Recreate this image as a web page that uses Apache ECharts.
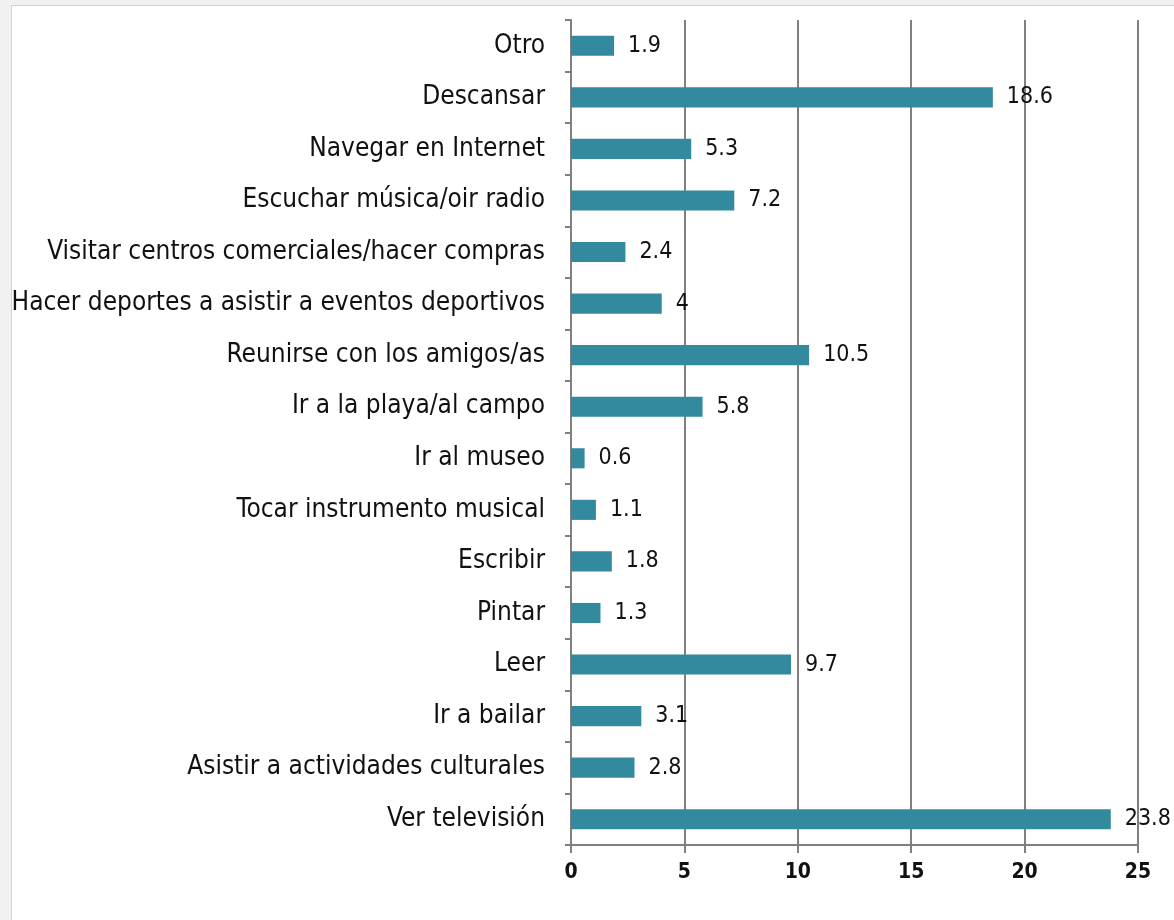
<!DOCTYPE html>
<html>
<head>
<meta charset="utf-8">
<script src="https://cdn.jsdelivr.net/npm/echarts@6/dist/echarts.min.js"></script>
<style>
  html, body { margin: 0; padding: 0; background: #f1f1f1; }
  #frame {
    position: absolute; left: 11px; top: 5px; right: 0; bottom: 0;
    background: #fff; border-left: 1px solid #d4d4d4; border-top: 1px solid #d4d4d4;
  }
  #chart { position: absolute; left: 0; top: 0; width: 1174px; height: 920px; }
</style>
</head>
<body>
<div id="frame"></div>
<div id="chart"></div>
<script>
// categories from bottom to top, as they sit on the axis
var categories = [
  'Ver televisión',
  'Asistir a actividades culturales',
  'Ir a bailar',
  'Leer',
  'Pintar',
  'Escribir',
  'Tocar instrumento musical',
  'Ir al museo',
  'Ir a la playa/al campo',
  'Reunirse con los amigos/as',
  'Hacer deportes a asistir a eventos deportivos',
  'Visitar centros comerciales/hacer compras',
  'Escuchar música/oir radio',
  'Navegar en Internet',
  'Descansar',
  'Otro'
];
var values = [23.8, 2.8, 3.1, 9.7, 1.3, 1.8, 1.1, 0.6, 5.8, 10.5, 4, 2.4, 7.2, 5.3, 18.6, 1.9];
var xTicks = [0, 5, 10, 15, 20, 25];

var font = "'Liberation Sans Narrow', 'DejaVu Sans Condensed', sans-serif";
var axisGray = '#808080';

var chart = echarts.init(document.getElementById('chart'));
chart.setOption({
  animation: false,
  backgroundColor: 'transparent',
  grid: { left: 571, right: 36, top: 20, bottom: 75 },
  xAxis: {
    type: 'value',
    min: xTicks[0],
    max: xTicks[xTicks.length - 1],
    interval: 5,
    axisLine: { show: true, lineStyle: { color: axisGray, width: 2 } },
    axisTick: { show: true, length: 8, lineStyle: { color: axisGray, width: 2 } },
    splitLine: { show: true, lineStyle: { color: axisGray, width: 2 } },
    axisLabel: { margin: 17, color: '#111', fontFamily: font, fontSize: 21, fontWeight: 'bold' }
  },
  yAxis: {
    type: 'category',
    data: categories,
    axisLine: { show: true, lineStyle: { color: axisGray, width: 2 } },
    axisTick: { show: true, length: 6, lineStyle: { color: axisGray, width: 2 } },
    axisLabel: { margin: 26, color: '#111', fontFamily: font, fontSize: 26 }
  },
  series: [{
    type: 'bar',
    data: values,
    barWidth: '39%',
    itemStyle: { color: '#338a9e' },
    label: {
      show: true,
      position: 'right',
      distance: 14,
      color: '#111',
      fontFamily: font,
      fontSize: 23
    }
  }]
});
</script>
</body>
</html>
